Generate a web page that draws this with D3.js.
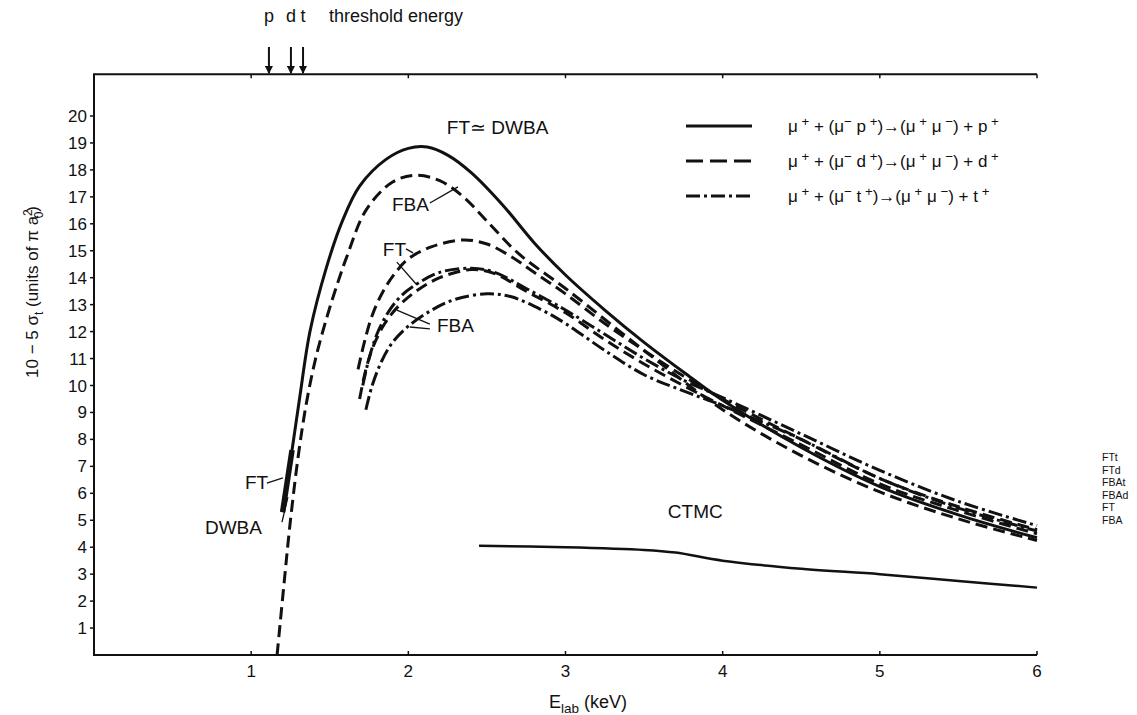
<!DOCTYPE html>
<html>
<head>
<meta charset="utf-8">
<script src="https://d3js.org/d3.v7.min.js"></script>
<style>
    body { margin: 0; background: #fff; }
    text { font-family: "Liberation Sans", Arial, sans-serif; fill: #111; }
</style>
</head>
<body>
<script>
    const width = 1137, height = 715;

    // tick labels
    const xTicks = [1, 2, 3, 4, 5, 6];
    const yTicks = [1, 2, 3, 4, 5, 6, 7, 8, 9, 10, 11, 12, 13, 14, 15, 16, 17, 18, 19, 20];

    // threshold energies (keV)
    const thresholdNames = ["p", "d", "t"];
    const thresholdE = [1.113, 1.253, 1.33];

    // cross sections [E_lab keV, sigma]
    const pFT = [[1.2, 5.3], [1.26, 7.6], [1.31, 9.6], [1.374, 12.0], [1.48, 14.4], [1.58, 16.1], [1.69, 17.4],
        [1.86, 18.4], [2.0, 18.8], [2.12, 18.85], [2.25, 18.55], [2.4, 17.9], [2.6, 16.7], [2.8, 15.3], [3.0, 14.1],
        [3.25, 12.8], [3.5, 11.6], [3.75, 10.5], [4.0, 9.45], [4.5, 7.7], [5.0, 6.25], [5.5, 5.2], [6.0, 4.35]];
    const pFBA = [[1.165, 0], [1.21, 2.7], [1.25, 5.0], [1.3, 7.4], [1.35, 9.3], [1.41, 11.0], [1.48, 12.5],
        [1.55, 13.8], [1.61, 14.8], [1.73, 16.5], [1.9, 17.55], [2.05, 17.8], [2.2, 17.6], [2.35, 17.0], [2.5, 16.1],
        [2.7, 14.9], [3.0, 13.6], [3.5, 11.3], [4.0, 9.1], [4.5, 7.4], [5.0, 6.05], [5.5, 5.05], [6.0, 4.25]];
    const dFT = [[1.68, 10.6], [1.72, 11.6], [1.77, 12.6], [1.84, 13.5], [1.92, 14.2], [2.0, 14.7], [2.15, 15.15],
        [2.35, 15.4], [2.5, 15.25], [2.65, 14.8], [2.8, 14.2], [3.0, 13.4], [3.25, 12.3], [3.5, 11.3], [3.75, 10.35],
        [4.0, 9.5], [4.5, 8.0], [5.0, 6.55], [5.5, 5.5], [6.0, 4.65]];
    const tFT = [[1.71, 10.0], [1.75, 11.0], [1.8, 11.9], [1.87, 12.7], [1.95, 13.3], [2.05, 13.75], [2.2, 14.2],
        [2.4, 14.35], [2.55, 14.2], [2.75, 13.6], [3.0, 12.8], [3.25, 11.9], [3.5, 11.0], [3.75, 10.2], [4.0, 9.55],
        [4.5, 8.2], [5.0, 6.85], [5.5, 5.7], [6.0, 4.8]];
    const dFBA = [[1.69, 9.5], [1.73, 10.6], [1.78, 11.5], [1.85, 12.3], [1.93, 12.9], [2.05, 13.5], [2.2, 14.0],
        [2.4, 14.3], [2.55, 14.15], [2.75, 13.5], [3.0, 12.7], [3.25, 11.7], [3.5, 10.8], [3.75, 10.0], [4.0, 9.25],
        [4.5, 7.8], [5.0, 6.35], [5.5, 5.35], [6.0, 4.5]];
    const tFBA = [[1.73, 9.1], [1.77, 10.0], [1.83, 10.9], [1.9, 11.6], [2.0, 12.2], [2.15, 12.8], [2.3, 13.2],
        [2.5, 13.4], [2.65, 13.3], [2.85, 12.8], [3.0, 12.3], [3.25, 11.3], [3.5, 10.4], [3.75, 9.8], [4.0, 9.25],
        [4.5, 8.0], [5.0, 6.55], [5.5, 5.45], [6.0, 4.6]];
    const ctmc = [[2.45, 4.05], [3.0, 4.0], [3.5, 3.9], [3.7, 3.8], [4.0, 3.5], [4.5, 3.2], [5.0, 3.0], [5.5, 2.75], [6.0, 2.5]];

    // labels placed in data units
    const labels = [
        { t: "FT\u2243 DWBA", x: 2.245, y: 19.33 },
        { t: "FBA", x: 1.896, y: 16.47 },
        { t: "FT", x: 1.838, y: 14.8 },
        { t: "FBA", x: 2.182, y: 11.98 },
        { t: "FT", x: 0.96, y: 6.16 },
        { t: "DWBA", x: 0.706, y: 4.49 },
        { t: "CTMC", x: 3.651, y: 5.08 }
    ];
    const leaders = [
        [[2.137, 16.77], [2.316, 17.37]],
        [[1.985, 15.07], [2.03, 14.92]],
        [[1.927, 14.58], [2.055, 13.73]],
        [[2.137, 12.28], [1.927, 12.8]],
        [[2.137, 12.1], [2.01, 12.17]],
        [[1.1, 6.38], [1.202, 6.57]],
        [[1.196, 4.93], [1.234, 5.86]]
    ];
    const sideNames = ["FTt", "FTd", "FBAt", "FBAd", "FT", "FBA"];

    const svg = d3.select("body").append("svg").attr("width", width).attr("height", height);

    const x = d3.scaleLinear().domain([0, 6]).range([94, 1037]);
    const y = d3.scaleLinear().domain([0, 20]).range([655, 116]);
    const yTop = 21.55;

    const dash = "12,6";
    const dashDot = "14,4,3,4";

    // frame
    svg.append("path")
        .attr("d", `M${x(6)},${y(yTop)}H${x(0)}V${y(0)}H${x(6)}`)
        .attr("fill", "none").attr("stroke", "#111").attr("stroke-width", 2);

    // y ticks
    const yAxis = svg.append("g");
    yTicks.forEach(v => {
        yAxis.append("line").attr("x1", x(0) - 4).attr("x2", x(0)).attr("y1", y(v)).attr("y2", y(v))
            .attr("stroke", "#111").attr("stroke-width", 1.5);
        yAxis.append("text").attr("x", x(0) - 7).attr("y", y(v) + 6).attr("text-anchor", "end")
            .attr("font-size", 17).text(v);
    });
    // x ticks
    xTicks.forEach(v => {
        svg.append("line").attr("x1", x(v)).attr("x2", x(v)).attr("y1", y(0)).attr("y2", y(0) - 4)
            .attr("stroke", "#111").attr("stroke-width", 1.5);
        svg.append("line").attr("x1", x(v)).attr("x2", x(v)).attr("y1", y(yTop)).attr("y2", y(yTop) + 4)
            .attr("stroke", "#111").attr("stroke-width", 1.5);
        svg.append("text").attr("x", x(v)).attr("y", 677).attr("text-anchor", "middle")
            .attr("font-size", 17).text(v);
    });

    // rich text helper: segments [text, "sup"|"sub"|undefined, dx]
    function rich(sel, segs, size, ratio) {
        let shift = 0;
        segs.forEach(s => {
            const target = s[1] === "sup" ? -size * 0.38 : s[1] === "sub" ? size * 0.3 : 0;
            const ts = sel.append("tspan").attr("dy", target - shift).text(s[0]);
            if (s[1]) ts.attr("font-size", size * (ratio || 0.7));
            if (s[2]) ts.attr("dx", s[2]);
            shift = target;
        });
    }

    // axis labels
    const yl = svg.append("text").attr("font-size", 17).attr("text-anchor", "middle")
        .attr("transform", "translate(38,292) rotate(-90)");
    rich(yl, [["10 \u2212 5  \u03c3"], ["t", "sub"], ["  (units of \u03c0 a"], ["2", "sup"], ["0", "sub", -9], [")"]], 17);
    const xl = svg.append("text").attr("font-size", 18).attr("x", 549).attr("y", 708);
    rich(xl, [["E"], ["lab", "sub"], [" (keV)"]], 18, 0.75);

    // threshold arrows
    svg.append("defs").append("marker")
        .attr("id", "ah").attr("viewBox", "0 0 10 10").attr("refX", 9).attr("refY", 5)
        .attr("markerWidth", 4).attr("markerHeight", 4).attr("orient", "auto")
        .append("path").attr("d", "M0,0L10,5L0,10Z").attr("fill", "#111");
    thresholdE.forEach((e, i) => {
        svg.append("line").attr("x1", x(e)).attr("x2", x(e)).attr("y1", 47).attr("y2", y(yTop) - 1)
            .attr("stroke", "#111").attr("stroke-width", 2).attr("marker-end", "url(#ah)");
        svg.append("text").attr("x", x(e)).attr("y", 22).attr("text-anchor", "middle")
            .attr("font-size", 18).text(thresholdNames[i]);
    });
    svg.append("text").attr("x", 329).attr("y", 22).attr("font-size", 18).text("threshold energy");

    // curves
    const line = d3.line().x(d => x(d[0])).y(d => y(d[1])).curve(d3.curveCatmullRom.alpha(0.5));
    const curves = [
        { d: pFT, dash: null, w: 3 },
        { d: pFT.filter(d => d[0] <= 1.26), dash: null, w: 5.5 },
        { d: pFBA, dash: dash, w: 3 },
        { d: dFT, dash: dash, w: 3 },
        { d: tFT, dash: dashDot, w: 3 },
        { d: dFBA, dash: dash, w: 3 },
        { d: tFBA, dash: dashDot, w: 3 },
        { d: ctmc, dash: null, w: 2.5 }
    ];
    svg.selectAll(".curve").data(curves).join("path")
        .attr("class", "curve")
        .attr("fill", "none").attr("stroke", "#111")
        .attr("stroke-width", d => d.w)
        .attr("stroke-dasharray", d => d.dash)
        .attr("d", d => line(d.d));

    // annotations
    svg.selectAll(".lead").data(leaders).join("line").attr("class", "lead")
        .attr("x1", d => x(d[0][0])).attr("y1", d => y(d[0][1]))
        .attr("x2", d => x(d[1][0])).attr("y2", d => y(d[1][1]))
        .attr("stroke", "#111").attr("stroke-width", 1.3);
    svg.selectAll(".lab").data(labels).join("text").attr("class", "lab")
        .attr("x", d => x(d.x)).attr("y", d => y(d.y)).attr("font-size", 19).text(d => d.t);

    // legend
    const legendStyles = [null, "17,7", "14,4,3,4"];
    const legendText = [
        [["\u03bc"], [" +", "sup"], [" + (\u03bc"], ["\u2212", "sup"], ["  p"], [" +", "sup"], [")\u2192(\u03bc"], [" +", "sup"], [" \u03bc"], [" \u2212", "sup"], [") + p"], [" +", "sup"]],
        [["\u03bc"], [" +", "sup"], [" + (\u03bc"], ["\u2212", "sup"], ["  d"], [" +", "sup"], [")\u2192(\u03bc"], [" +", "sup"], [" \u03bc"], [" \u2212", "sup"], [") + d"], [" +", "sup"]],
        [["\u03bc"], [" +", "sup"], [" + (\u03bc"], ["\u2212", "sup"], ["  t"], [" +", "sup"], [")\u2192(\u03bc"], [" +", "sup"], [" \u03bc"], [" \u2212", "sup"], [") + t"], [" +", "sup"]]
    ];
    legendStyles.forEach((s, i) => {
        const ly = 126 + i * 35;
        svg.append("line").attr("x1", 686).attr("x2", 752).attr("y1", ly).attr("y2", ly)
            .attr("stroke", "#111").attr("stroke-width", 3).attr("stroke-dasharray", s);
        const t = svg.append("text").attr("x", 788).attr("y", ly + 6).attr("font-size", 17);
        rich(t, legendText[i], 17, 0.78);
    });

    // side list
    svg.selectAll(".side").data(sideNames).join("text").attr("class", "side")
        .attr("x", 1102).attr("y", (d, i) => 461 + i * 12.6).attr("font-size", 10.5).text(d => d);
</script>
</body>
</html>
